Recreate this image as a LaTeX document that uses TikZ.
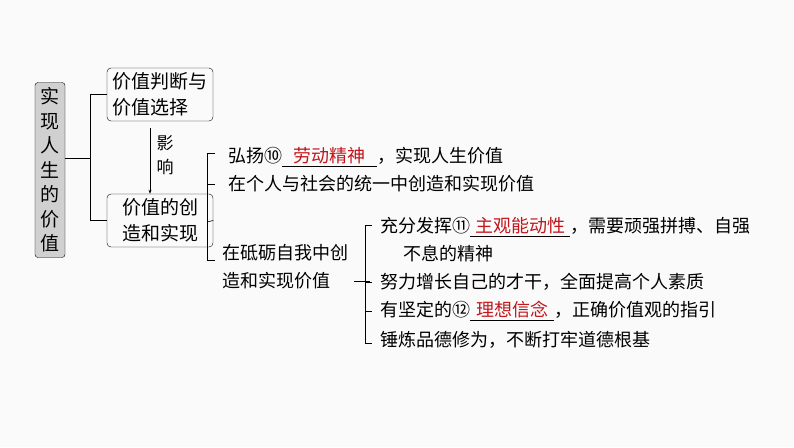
\documentclass[tikz,border=0pt]{standalone}
\usepackage{fontspec}
\setmainfont{Noto Sans CJK SC}
\usepackage{tikz}
\usetikzlibrary{arrows.meta, positioning}
\definecolor{fillred}{HTML}{C0161C}
\definecolor{boxgray}{HTML}{D0D0D0}
\newcommand\fillin[2]{\underline{\makebox[#1]{\color{fillred}#2}}}

\begin{document}
\begin{tikzpicture}[x=1pt, y=-1pt,
                    every node/.style={font=\fontsize{18}{28}\selectfont, inner sep=0pt},
                    topicbox/.style={draw, rounded corners=3pt, fill=boxgray, minimum width=30pt, minimum height=175pt, align=center, font=\fontsize{19}{24.5}\selectfont},
                    ideabox/.style={draw, rounded corners=4pt, minimum width=106pt, minimum height=53pt, align=left, font=\fontsize{19}{26}\selectfont},
                    item/.style={anchor=west, align=left},
                    link/.style={draw, line width=0.6pt}]
    \fill[white!96!gray] (0,0) rectangle (794,447);

    % main topic
    \node[topicbox] (topic) at (50,170) {实\\现\\人\\生\\的\\价\\值};
    \node[ideabox] (judge) at (160,94.5) {价值判断与\\价值选择};
    \node[ideabox] (create) at (160,220.5) {价值的创\\造和实现};
    \coordinate (fork1) at (90,158);
    \draw[link] (topic.east |- fork1) -- (fork1);
    \draw[link] (judge.west) -- ++(-17,0) |- (create.west);
    \draw[link, -{Stealth[length=4pt]}] (judge.south) ++(-10,7) coordinate (a1) -- (a1 |- create.north) coordinate (a2);
    \node[align=center, font=\fontsize{17}{24}\selectfont] (influence) at (165,155) {影\\响};

    % creation branch
    \node[item] (spread) at (228,157) {弘扬⑩\fillin{95pt}{劳动精神}，实现人生价值};
    \node[item] (unity) at (228,184) {在个人与社会的统一中创造和实现价值};
    \node[item] (strive) at (222,267) {在砥砺自我中创\\造和实现价值};
    \coordinate (fork2) at (207,222);
    \draw[link] (create.east) -- (fork2);
    \draw[link] (spread.west) ++(-13,-4) coordinate (t1) -- ++(-8,0) |- ([xshift=-7pt,yshift=7pt]strive.west);

    \draw[link] (unity.west) ++(-21,0) -- ++(8,0);

    % self-improvement branch
    \node[item] (subject) at (380,240) {充分发挥⑪\fillin{100pt}{主观能动性}，需要顽强拼搏、自强\\\hspace{1.3em}不息的精神};
    \node[item] (talent) at (380,282) {努力增长自己的才干，全面提高个人素质};
    \node[item] (belief) at (380,311) {有坚定的⑫\fillin{84pt}{理想信念}，正确价值观的指引};
    \node[item] (virtue) at (380,340) {锤炼品德修为，不断打牢道德根基};
    \draw[link] ([xshift=6pt,yshift=-14pt]strive.east) -- ++(16,0);
    \draw[link] ([xshift=-8pt,yshift=15pt]subject.west) -- ++(-7,0) |- ([xshift=-8pt,yshift=-3pt]virtue.west);
    \draw[link] ([xshift=-15pt]talent.west) -- ++(7,0);
    \draw[link] ([xshift=-15pt]belief.west) -- ++(7,0);
\end{tikzpicture}
\end{document}
